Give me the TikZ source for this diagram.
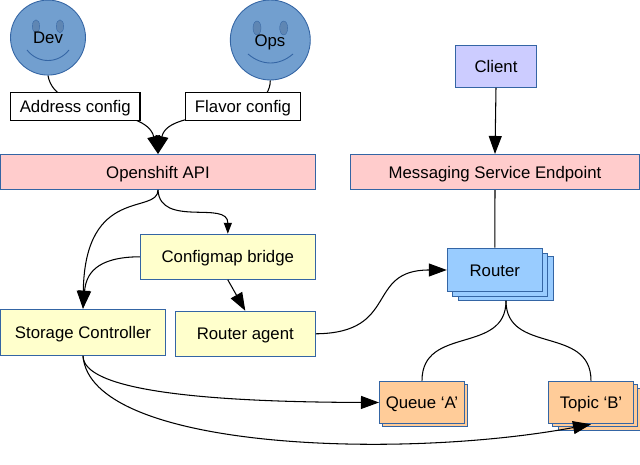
\documentclass[tikz,border=0pt]{standalone}
\usepackage{fontspec}
\setmainfont{Liberation Sans}
\usepackage{xcolor}
\usetikzlibrary{arrows.meta,backgrounds}
\definecolor{edgeblue}{HTML}{3465A4}
\definecolor{facefill}{HTML}{729FCF}
\definecolor{eyefill}{HTML}{5F86B3}
\definecolor{apipink}{HTML}{FFCCCC}
\definecolor{bridgeyellow}{HTML}{FFFFCC}
\definecolor{clientviolet}{HTML}{CCCCFF}
\definecolor{routerblue}{HTML}{99CCFF}
\definecolor{queueorange}{HTML}{FFCC99}
\tikzset{
  box/.style={draw=edgeblue,line width=0.6pt,inner sep=0pt,align=center,text height=7.5pt,text depth=0.66pt},
  label/.style={inner sep=0pt,text height=7.5pt,text depth=0.66pt},
  configbox/.style={draw=black,fill=white,line width=0.6pt,inner sep=0pt,minimum height=0.56cm,text height=7.5pt,text depth=0.66pt},
  apibox/.style={box,fill=apipink,minimum height=0.7cm},
  yellowbox/.style={box,fill=bridgeyellow},
  routerbox/.style={box,fill=routerblue,minimum width=1.9cm,minimum height=0.87cm},
  queuebox/.style={box,fill=queueorange,minimum width=1.7cm,minimum height=0.85cm},
  face/.style={circle,draw=edgeblue,fill=facefill,line width=0.5pt,inner sep=0pt},
  eye/.style={fill=eyefill,draw=edgeblue,line width=0.2pt},
  mouth/.style={draw=edgeblue,line width=0.5pt},
  conn/.style={draw=black,line width=0.6pt},
  arrowconn/.style={conn,-{Triangle[length=0.36cm,width=0.26cm]}},
  smallconn/.style={conn,-{Triangle[length=0.22cm,width=0.16cm]}}
}
\begin{document}
\begin{tikzpicture}[x=0.02cm,y=-0.02cm,font=\fontsize{9.55}{11}\selectfont]
  \useasboundingbox (0,0) rectangle (640,465);

  \node[face,minimum size=1.5cm] (dev) at (48,37.6) {};
  \fill[eye] (36,26.3) ellipse (3.7 and 6.5);
  \fill[eye] (60,26.3) ellipse (3.7 and 6.5);
  \draw[mouth] (27,50) .. controls (38,64) and (58,64) .. (69,50);
  \node[label] (devlabel) at (48,37) {Dev};
  \node[face,minimum size=1.6cm] (ops) at (270.3,40) {};
  \fill[eye] (257,28) ellipse (4 and 7);
  \fill[eye] (283.7,28) ellipse (4 and 7);
  \draw[mouth] (248,54) .. controls (262,66) and (279,66) .. (293,54);
  \node[label] (opslabel) at (270,40) {Ops};

  \node[configbox,minimum width=2.59cm] (address) at (75.25,106.5) {Address config};
  \node[configbox,minimum width=2.3cm] (flavor) at (243,106.5) {Flavor config};
  \node[apibox,minimum width=6.3cm] (api) at (158,172) {Openshift API};
  \node[apibox,minimum width=5.8cm] (endpoint) at (495,172) {Messaging Service Endpoint};
  \node[box,fill=clientviolet,minimum width=1.63cm,minimum height=0.84cm] (client) at (496,66.3) {Client};
  \node[yellowbox,minimum width=3.5cm,minimum height=0.9cm] (bridge) at (227.8,256.8) {Configmap bridge};
  \node[yellowbox,minimum width=3.3cm,minimum height=0.92cm] (storage) at (83,332.3) {Storage Controller};
  \node[yellowbox,minimum width=2.8cm,minimum height=0.9cm] (agent) at (245.3,333.8) {Router agent};

  \node[routerbox] (routerback) at (506,278.5) {};
  \node[routerbox] (routermid) at (500,274.8) {};
  \node[routerbox] (router) at (494.8,270) {Router};
  \node[queuebox] (queueback) at (425,405.5) {};
  \node[queuebox] (queue) at (422,402.5) {Queue ‘A’};
  \node[queuebox] (topicback) at (600.7,409.5) {};
  \node[queuebox] (topicmid) at (594.7,405.5) {};
  \node[queuebox] (topic) at (591,402.5) {Topic ‘B’};

  \begin{scope}[on background layer]
    \draw[arrowconn] (dev.south) .. controls (55,118) and (146,105) .. (api.north);
    \draw[arrowconn] (ops.south) .. controls (270,125) and (169,105) .. (api.north);
    \draw[conn] (endpoint.south) -- (router.north);
  \end{scope}
  \draw[arrowconn] (client.south) -- (endpoint.north);
  \draw[arrowconn] (api.south) .. controls (158,215) and (85,185) .. (storage.north);
  \draw[smallconn] (api.south) .. controls (160,228) and (228,200) .. (bridge.north);
  \draw[arrowconn] (bridge.west) .. controls (95,257) and (86,275) .. (storage.north);
  \draw[arrowconn] (bridge.south) -- (agent.north);
  \draw[arrowconn] (agent.east) .. controls (400,333) and (365,270) .. (router.west);
  \draw[conn] (routerback.south) .. controls (506,355) and (422,325) .. (queue.north);
  \draw[conn] (routerback.south) .. controls (506,355) and (591,325) .. (topic.north);
  \draw[arrowconn] (storage.south) .. controls (83,390) and (200,402) .. (queue.west);
  \draw[arrowconn] (storage.south) .. controls (90,450) and (400,460) .. (topic.south);
\end{tikzpicture}
\end{document}
